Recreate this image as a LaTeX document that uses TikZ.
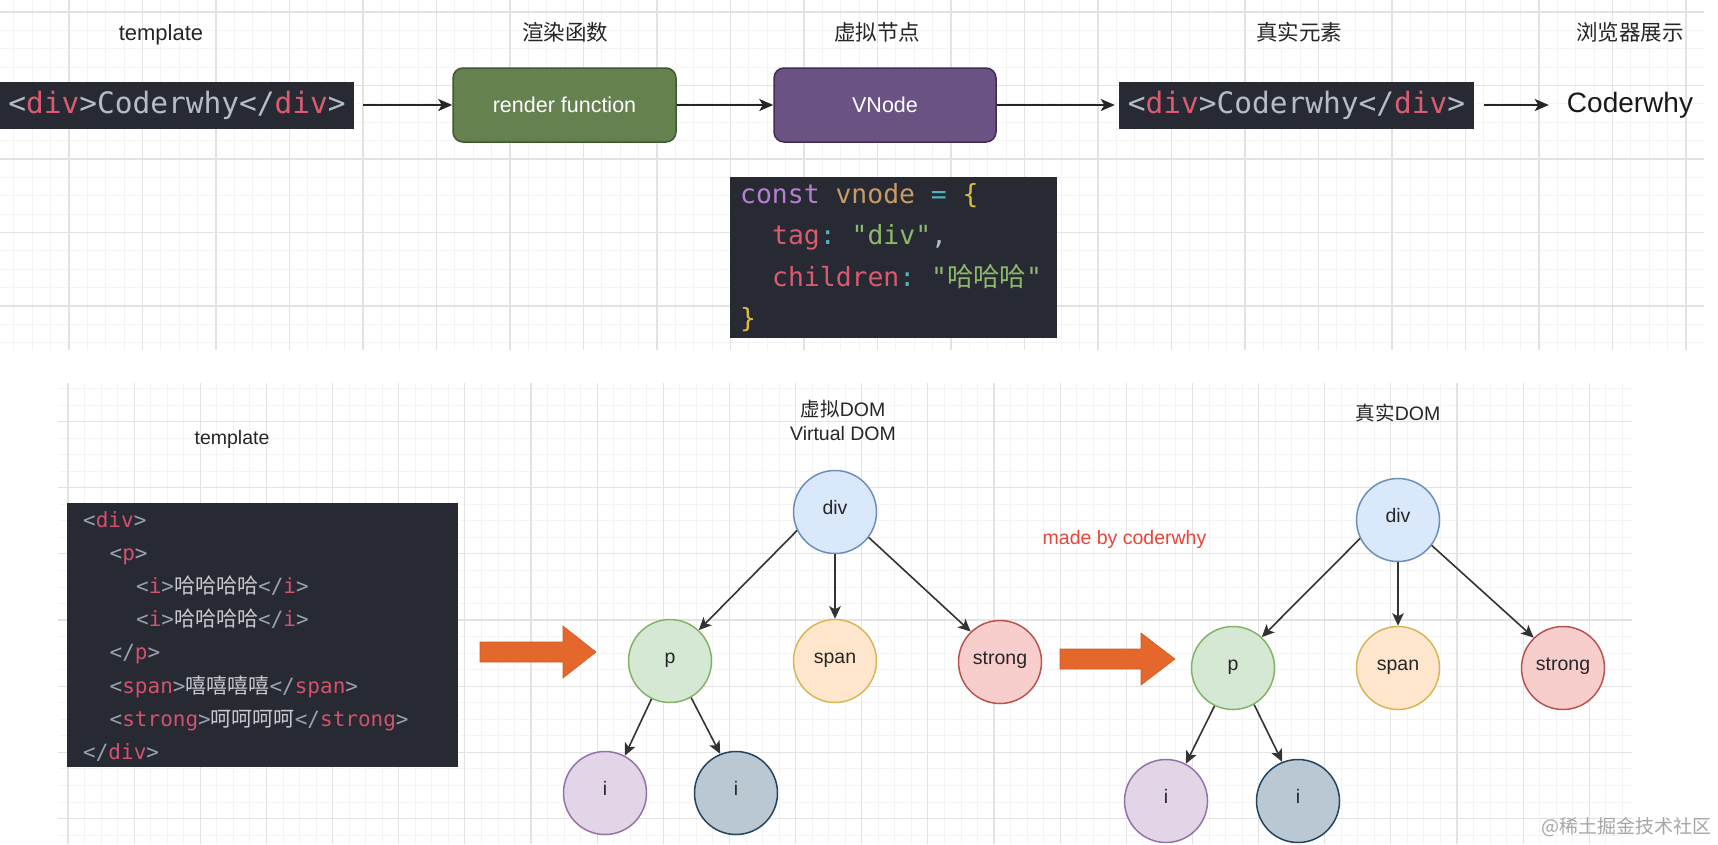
\documentclass[tikz,border=0pt]{standalone}
\usepackage{fontspec}
\setmainfont{Liberation Sans}
\setmonofont{DejaVu Sans Mono}
\newfontfamily\cjk{Noto Sans CJK SC}
\usetikzlibrary{arrows.meta}
\definecolor{codebg}{HTML}{272A32}
\definecolor{cbr}{HTML}{B4BCC8}
\definecolor{ctag}{HTML}{DA5A70}
\definecolor{bbr}{HTML}{9AA2AE}
\definecolor{btag}{HTML}{D2526B}
\definecolor{btxt}{HTML}{C6C9CF}
\definecolor{kw}{HTML}{B57FD4}
\definecolor{vn}{HTML}{C99A66}
\definecolor{op}{HTML}{50B3C0}
\definecolor{brc}{HTML}{DDBB3E}
\definecolor{st}{HTML}{8DB86B}
\definecolor{rgreen}{HTML}{64814F}
\definecolor{rgreenD}{HTML}{3F5A30}
\definecolor{rpurple}{HTML}{6A5282}
\definecolor{rpurpleD}{HTML}{432D57}
\definecolor{gmin}{HTML}{F4F4F4}
\definecolor{gmaj}{HTML}{E3E3E3}
\definecolor{c1f}{HTML}{DAE8FC}\definecolor{c1d}{HTML}{6C8EBF}
\definecolor{c2f}{HTML}{D5E8D4}\definecolor{c2d}{HTML}{82B366}
\definecolor{c3f}{HTML}{FFE6CC}\definecolor{c3d}{HTML}{D6B656}
\definecolor{c4f}{HTML}{F8CECC}\definecolor{c4d}{HTML}{B85450}
\definecolor{c5f}{HTML}{E1D5E7}\definecolor{c5d}{HTML}{9673A6}
\definecolor{c6f}{HTML}{BAC8D3}\definecolor{c6d}{HTML}{23445D}
\definecolor{orng}{HTML}{E4672B}
\definecolor{mred}{HTML}{E8453C}
\begin{document}
\begin{tikzpicture}[x=1pt,y=-1pt,
  toplbl/.style={font=\cjk\fontsize{21.5}{26}\selectfont, text=black!85, inner sep=0, anchor=base},
  lbl/.style={font=\fontsize{19.5}{23}\selectfont, text=black!85, inner sep=0, anchor=base},
  codebox/.style={fill=codebg, inner sep=0, font=\ttfamily\fontsize{29.5}{34}\selectfont},
  fbox/.style={rounded corners=10pt, line width=1.5pt, inner sep=0, minimum height=74pt, text=white, font=\fontsize{21.5}{26}\selectfont},
  vline/.style={inner sep=0, anchor=base west, font=\ttfamily\fontsize{26.4}{30}\selectfont},
  bline/.style={inner sep=0, anchor=base west, font=\ttfamily\fontsize{21}{25}\selectfont},
  toparrow/.style={-{Stealth[length=14pt,width=12pt,inset=3.5pt]}, line width=2pt, draw=black!85},
  circ/.style={circle, minimum size=83pt, inner sep=0, line width=1.5pt, font=\fontsize{19.5}{23}\selectfont, text=black!85, text height=0.75em, text depth=0.25em},
  tarrow/.style={-{Stealth[length=12.5pt,width=11.5pt,inset=3pt]}, line width=1.6pt, draw=black!80},
  bigarrow/.style={fill=orng, draw=orng!90!black, line width=0.6pt}
]
\useasboundingbox (0,0) rectangle (1718,844);
\fill[white] (0,0) rectangle (1718,844);
% top grid
\begin{scope}
\clip (0,0) rectangle (1704,350);
\foreach \i in {-4,...,90} {\draw[gmin, line width=0.8pt] ({69+\i*18.375},0) -- ++(0,350);}
\foreach \j in {-3,...,17} {\draw[gmin, line width=0.8pt] (0,{306-\j*18.375}) -- ++(1704,0);}
\foreach \i in {0,...,22} {\draw[gmaj, line width=1.1pt] ({69+\i*73.5},0) -- ++(0,350);}
\foreach \j in {0,...,4} {\draw[gmaj, line width=1.1pt] (0,{306-\j*73.5}) -- ++(1704,0);}
\end{scope}
% bottom grid
\begin{scope}
\clip (58,383) rectangle (1632,844);
\foreach \i in {-1,...,95} {\draw[gmin, line width=0.8pt] ({68+\i*16.535},383) -- ++(0,461);}
\foreach \j in {-3,...,26} {\draw[gmin, line width=0.8pt] (58,{421.6+\j*16.535}) -- ++(1574,0);}
\foreach \i in {0,...,23} {\draw[gmaj, line width=1.1pt] ({68+\i*66.14},383) -- ++(0,461);}
\foreach \j in {0,...,6} {\draw[gmaj, line width=1.1pt] (58,{421.6+\j*66.14}) -- ++(1574,0);}
\end{scope}

% ---------- top row ----------
\node[toplbl, font=\fontsize{22}{26}\selectfont] (lt) at (161,40) {template};
\node[toplbl] (lr) at (565,40) {渲染函数};
\node[toplbl] (lv) at (877,40) {虚拟节点};
\node[toplbl] (le) at (1299,40) {真实元素};
\node[toplbl] (lb) at (1630,40) {浏览器展示};

\node[codebox, minimum width=354pt, minimum height=47pt] (t1) at (177,105)
  {\makebox[0pt]{\textcolor{cbr}{<}\textcolor{ctag}{div}\textcolor{cbr}{>Coderwhy</}\textcolor{ctag}{div}\textcolor{cbr}{>}}};
\node[fbox, fill=rgreen, draw=rgreenD, minimum width=223pt] (rf) at (564.5,105) {render function};
\node[fbox, fill=rpurple, draw=rpurpleD, minimum width=222pt] (vn) at (885,105) {VNode};
\node[codebox, minimum width=355pt, minimum height=47pt] (t2) at (1296.5,105)
  {\makebox[0pt]{\textcolor{cbr}{<}\textcolor{ctag}{div}\textcolor{cbr}{>Coderwhy</}\textcolor{ctag}{div}\textcolor{cbr}{>}}};
\node[inner ysep=0, inner xsep=18pt, font=\fontsize{28}{32}\selectfont, text=black!90] (cw) at (1630,105) {Coderwhy};

\draw[toparrow, shorten <=9pt] (t1.east) -- (rf.west);
\draw[toparrow] (rf.east) -- (vn.west);
\draw[toparrow, shorten >=4pt] (vn.east) -- (t2.west);
\draw[toparrow, shorten <=10pt] (t2.east) -- (cw.west);

% vnode code
\node[fill=codebg, minimum width=327pt, minimum height=161pt, inner sep=0] (vc) at (893.5,257.5) {};
\node[vline] (v1) at (740,203) {\textcolor{kw}{const} \textcolor{vn}{vnode} \textcolor{op}{=} \textcolor{brc}{\{}};
\node[vline] (v2) at (772,244.5) {\textcolor{ctag}{tag}\textcolor{op}{:} \textcolor{st}{"div"}\textcolor{cbr}{,}};
\node[vline] (v3) at (772,286) {\textcolor{ctag}{children}\textcolor{op}{:} \textcolor{st}{"{\cjk 哈哈哈}"}};
\node[vline] (v4) at (740,327.5) {\textcolor{brc}{\}}};

% ---------- bottom ----------
\node[lbl] (bt) at (232,444) {template};
\node[lbl] (bv1) at (843,416) {{\cjk 虚拟}DOM};
\node[lbl] (bv2) at (843,440) {Virtual DOM};
\node[lbl] (br) at (1398,420) {{\cjk 真实}DOM};
\node[lbl, text=mred] (mb) at (1124.5,544) {made by coderwhy};

\node[fill=codebg, minimum width=391pt, minimum height=264pt, inner sep=0] (bc) at (262.5,635) {};
\node[bline] (b1) at (83,527) {\textcolor{bbr}{<}\textcolor{btag}{div}\textcolor{bbr}{>}};
\node[bline] (b2) at (109.5,560.2) {\textcolor{bbr}{<}\textcolor{btag}{p}\textcolor{bbr}{>}};
\node[bline] (b3) at (136,593.4) {\textcolor{bbr}{<}\textcolor{btag}{i}\textcolor{bbr}{>}\textcolor{btxt}{\cjk 哈哈哈哈}\textcolor{bbr}{</}\textcolor{btag}{i}\textcolor{bbr}{>}};
\node[bline] (b4) at (136,626.6) {\textcolor{bbr}{<}\textcolor{btag}{i}\textcolor{bbr}{>}\textcolor{btxt}{\cjk 哈哈哈哈}\textcolor{bbr}{</}\textcolor{btag}{i}\textcolor{bbr}{>}};
\node[bline] (b5) at (109.5,659.8) {\textcolor{bbr}{</}\textcolor{btag}{p}\textcolor{bbr}{>}};
\node[bline] (b6) at (109.5,693) {\textcolor{bbr}{<}\textcolor{btag}{span}\textcolor{bbr}{>}\textcolor{btxt}{\cjk 嘻嘻嘻嘻}\textcolor{bbr}{</}\textcolor{btag}{span}\textcolor{bbr}{>}};
\node[bline] (b7) at (109.5,726.2) {\textcolor{bbr}{<}\textcolor{btag}{strong}\textcolor{bbr}{>}\textcolor{btxt}{\cjk 呵呵呵呵}\textcolor{bbr}{</}\textcolor{btag}{strong}\textcolor{bbr}{>}};
\node[bline] (b8) at (83,759.4) {\textcolor{bbr}{</}\textcolor{btag}{div}\textcolor{bbr}{>}};

% orange arrows
\fill[bigarrow] (480,642) -- (563,642) -- (563,626) -- (596,652) -- (563,678) -- (563,662) -- (480,662) -- cycle;
\fill[bigarrow] (1060,649) -- (1141,649) -- (1141,633) -- (1175,659) -- (1141,685) -- (1141,669) -- (1060,669) -- cycle;

% left tree
\node[circ, fill=c1f, draw=c1d] (ld) at (835,512) {div};
\node[circ, fill=c2f, draw=c2d] (lp) at (670,661) {p};
\node[circ, fill=c3f, draw=c3d] (ls) at (835,661) {span};
\node[circ, fill=c4f, draw=c4d] (lg) at (1000,662) {strong};
\node[circ, fill=c5f, draw=c5d] (li1) at (605,793) {i};
\node[circ, fill=c6f, draw=c6d] (li2) at (736,793) {i};
\draw[tarrow] (ld.206) -- (lp.47);
\draw[tarrow] (ld.270) -- (ls.90);
\draw[tarrow] (ld.323) -- (lg.134);
\draw[tarrow] (lp.244) -- (li1.62);
\draw[tarrow] (lp.300) -- (li2.112);

% right tree
\node[circ, fill=c1f, draw=c1d] (rd) at (1398,520) {div};
\node[circ, fill=c2f, draw=c2d] (rp) at (1233,668) {p};
\node[circ, fill=c3f, draw=c3d] (rs) at (1398,668) {span};
\node[circ, fill=c4f, draw=c4d] (rg) at (1563,668) {strong};
\node[circ, fill=c5f, draw=c5d] (ri1) at (1166,801) {i};
\node[circ, fill=c6f, draw=c6d] (ri2) at (1298,801) {i};
\draw[tarrow] (rd.206) -- (rp.47);
\draw[tarrow] (rd.270) -- (rs.90);
\draw[tarrow] (rd.323) -- (rg.134);
\draw[tarrow] (rp.244) -- (ri1.62);
\draw[tarrow] (rp.300) -- (ri2.112);

% watermark
\node[inner sep=0, anchor=base east, font=\cjk\fontsize{19}{22}\selectfont, text=black!35] (wm) at (1712,833) {@稀土掘金技术社区};
\end{tikzpicture}
\end{document}
